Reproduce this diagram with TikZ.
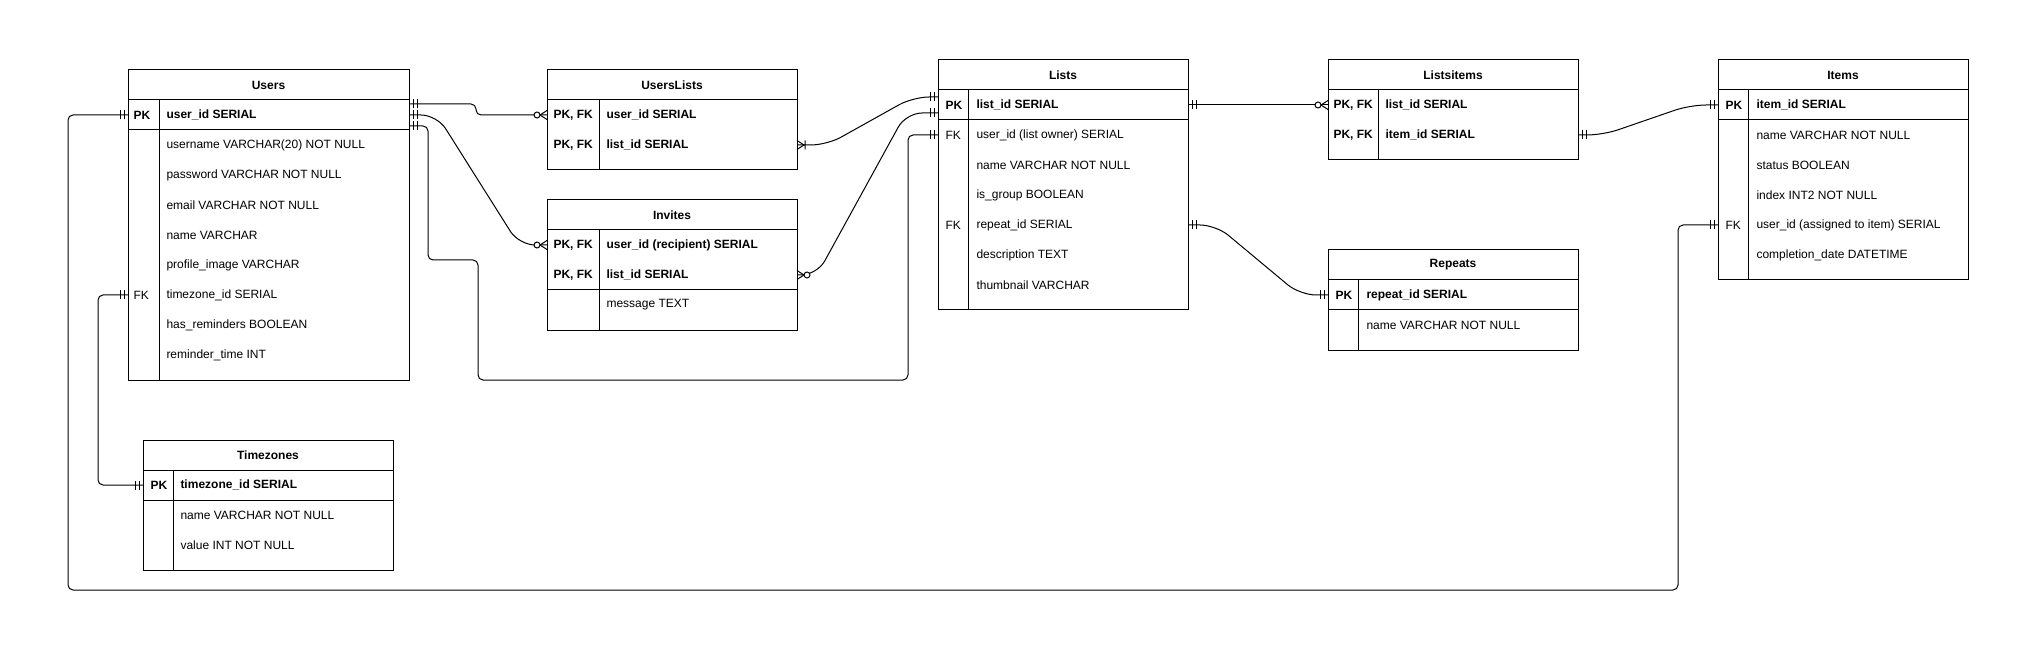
\documentclass[tikz,border=0pt]{standalone}
\usepackage{fontspec}
\setmainfont{Liberation Sans}

\tikzset{
  mone/.pic={\draw (4,-4.5) -- (4,4.5) (8,-4.5) -- (8,4.5);},
  zmany/.pic={\draw (0,-4.5) -- (7,0) -- (0,4.5); \draw[fill=white] (10,0) circle[radius=3];},
  omany/.pic={\draw (0,-4.5) -- (7,0) -- (0,4.5) (8,-4.5) -- (8,4.5);},
}

\begin{document}
\begin{tikzpicture}[
        x=1pt, y=-1pt,
        line width=1pt,
        every node/.style={font=\fontsize{12}{14}\selectfont},
        ttl/.style={draw, font=\fontsize{12}{14}\selectfont\bfseries, minimum height=30pt,
                    inner sep=0pt, outer sep=0pt, anchor=north west},
        rowbox/.style={minimum height=30pt, inner sep=0pt, outer sep=0pt, anchor=north west},
        keytxt/.style={anchor=west, inner sep=0pt},
        fldtxt/.style={anchor=west, inner sep=0pt},
        relline/.style={rounded corners=5pt},
        relbend/.style={rounded corners=16pt}
    ]
        \fill[white] (0,0) rectangle (2029,660);
        \useasboundingbox (0,0) rectangle (2029,660);

        % Users
        \node[ttl, minimum width=281pt] (users) at (128,70) {Users};
        \draw (users.south west) rectangle ++(281,280);
        \foreach \k/\f [count=\i] in {{\textbf{PK}}/{\textbf{user\_id SERIAL}}, {}/username VARCHAR(20) NOT NULL,
                {}/password VARCHAR NOT NULL, {}/email VARCHAR NOT NULL, {}/name VARCHAR, {}/profile\_image VARCHAR,
                FK/timezone\_id SERIAL, {}/has\_reminders BOOLEAN, {}/reminder\_time INT} {
            \node[rowbox, minimum width=281pt] (users-r\i) at (128,{100+30*(\i-1)}) {};
            \node[keytxt] (users-k\i) at ([xshift=5pt]users-r\i.west) {\k};
            \node[fldtxt] (users-f\i) at ([xshift=38pt]users-r\i.west) {\f};
        }
        \draw (users-r1.south west) -- (users-r1.south east);
        \draw ([xshift=31pt]users.south west) -- ++(0,280);

        % Timezones
        \node[ttl, minimum width=250pt] (tzones) at (143,440) {Timezones};
        \draw (tzones.south west) rectangle ++(250,100);
        \foreach \k/\f [count=\i] in {{\textbf{PK}}/{\textbf{timezone\_id SERIAL}}, {}/name VARCHAR NOT NULL,
                {}/value INT NOT NULL} {
            \node[rowbox, minimum width=250pt] (tzones-r\i) at (143,{470+30*(\i-1)}) {};
            \node[keytxt] (tzones-k\i) at ([xshift=7pt]tzones-r\i.west) {\k};
            \node[fldtxt] (tzones-f\i) at ([xshift=37pt]tzones-r\i.west) {\f};
        }
        \draw (tzones-r1.south west) -- (tzones-r1.south east);
        \draw ([xshift=30pt]tzones.south west) -- ++(0,100);

        % UsersLists
        \node[ttl, minimum width=250pt] (ulists) at (547,70) {UsersLists};
        \draw (ulists.south west) rectangle ++(250,70);
        \foreach \k/\f [count=\i] in {{\textbf{PK, FK}}/{\textbf{user\_id SERIAL}}, {\textbf{PK, FK}}/{\textbf{list\_id SERIAL}}} {
            \node[rowbox, minimum width=250pt] (ulists-r\i) at (547,{100+30*(\i-1)}) {};
            \node[keytxt] (ulists-k\i) at ([xshift=6pt]ulists-r\i.west) {\k};
            \node[fldtxt] (ulists-f\i) at ([xshift=59pt]ulists-r\i.west) {\f};
        }
        \draw ([xshift=52pt]ulists.south west) -- ++(0,70);

        % Invites
        \node[ttl, minimum width=250pt] (invites) at (547,200) {Invites};
        \draw (invites.south west) rectangle ++(250,100);
        \foreach \k/\f [count=\i] in {{\textbf{PK, FK}}/{\textbf{user\_id (recipient) SERIAL}},
                {\textbf{PK, FK}}/{\textbf{list\_id SERIAL}}, {}/message TEXT} {
            \node[rowbox, minimum width=250pt] (invites-r\i) at (547,{230+30*(\i-1)}) {};
            \node[keytxt] (invites-k\i) at ([xshift=6pt]invites-r\i.west) {\k};
            \node[fldtxt] (invites-f\i) at ([xshift=59pt]invites-r\i.west) {\f};
        }
        \draw (invites-r2.south west) -- (invites-r2.south east);
        \draw ([xshift=52pt]invites.south west) -- ++(0,100);

        % Lists
        \node[ttl, minimum width=250pt] (lists) at (938,60) {Lists};
        \draw (lists.south west) rectangle ++(250,220);
        \foreach \k/\f [count=\i] in {{\textbf{PK}}/{\textbf{list\_id SERIAL}}, FK/user\_id (list owner) SERIAL,
                {}/name VARCHAR NOT NULL, {}/is\_group BOOLEAN, FK/repeat\_id SERIAL, {}/description TEXT,
                {}/thumbnail VARCHAR} {
            \node[rowbox, minimum width=250pt] (lists-r\i) at (938,{90+30*(\i-1)}) {};
            \node[keytxt] (lists-k\i) at ([xshift=7pt]lists-r\i.west) {\k};
            \node[fldtxt] (lists-f\i) at ([xshift=38pt]lists-r\i.west) {\f};
        }
        \draw (lists-r1.south west) -- (lists-r1.south east);
        \draw ([xshift=30pt]lists.south west) -- ++(0,220);

        % Listsitems
        \node[ttl, minimum width=250pt] (litems) at (1328,60) {Listsitems};
        \draw (litems.south west) rectangle ++(250,70);
        \foreach \k/\f [count=\i] in {{\textbf{PK, FK}}/{\textbf{list\_id SERIAL}}, {\textbf{PK, FK}}/{\textbf{item\_id SERIAL}}} {
            \node[rowbox, minimum width=250pt] (litems-r\i) at (1328,{90+30*(\i-1)}) {};
            \node[keytxt] (litems-k\i) at ([xshift=5pt]litems-r\i.west) {\k};
            \node[fldtxt] (litems-f\i) at ([xshift=57pt]litems-r\i.west) {\f};
        }
        \draw ([xshift=50pt]litems.south west) -- ++(0,70);

        % Repeats
        \node[ttl, minimum width=250pt] (repeats) at (1328,250) {Repeats};
        \draw (repeats.south west) rectangle ++(250,70);
        \foreach \k/\f [count=\i] in {{\textbf{PK}}/{\textbf{repeat\_id SERIAL}}, {}/name VARCHAR NOT NULL} {
            \node[rowbox, minimum width=250pt] (repeats-r\i) at (1328,{280+30*(\i-1)}) {};
            \node[keytxt] (repeats-k\i) at ([xshift=7pt]repeats-r\i.west) {\k};
            \node[fldtxt] (repeats-f\i) at ([xshift=38pt]repeats-r\i.west) {\f};
        }
        \draw (repeats-r1.south west) -- (repeats-r1.south east);
        \draw ([xshift=30pt]repeats.south west) -- ++(0,70);

        % Items
        \node[ttl, minimum width=250pt] (items) at (1718,60) {Items};
        \draw (items.south west) rectangle ++(250,190);
        \foreach \k/\f [count=\i] in {{\textbf{PK}}/{\textbf{item\_id SERIAL}}, {}/name VARCHAR NOT NULL,
                {}/status BOOLEAN, {}/index INT2 NOT NULL, FK/user\_id (assigned to item) SERIAL,
                {}/completion\_date DATETIME} {
            \node[rowbox, minimum width=250pt] (items-r\i) at (1718,{90+30*(\i-1)}) {};
            \node[keytxt] (items-k\i) at ([xshift=7pt]items-r\i.west) {\k};
            \node[fldtxt] (items-f\i) at ([xshift=38pt]items-r\i.west) {\f};
        }
        \draw (items-r1.south west) -- (items-r1.south east);
        \draw ([xshift=30pt]items.south west) -- ++(0,190);

        % relations
        \draw[relline] ([yshift=11pt]users-r1.east) -- ++(67,0) |- (ulists-r1.west);
        \draw[relbend] (users-r1.east) -- ++(28,0) -- ([xshift=-28pt]invites-r1.west) -- (invites-r1.west);
        \draw[relline] ([yshift=-11pt]users-r1.east) -- ++(19,0) -- ++(0,134) -- ++(50,0) -- ++(0,120)
            -| ([xshift=-30pt]lists-r2.west) -- (lists-r2.west);
        \draw[relbend] (ulists-r2.east) -- ++(30,0) -- ([xshift=-25pt,yshift=8pt]lists-r1.west) -- ([yshift=8pt]lists-r1.west);
        \draw[relbend] (invites-r2.east) -- ++(20,0) -- ([xshift=-32pt,yshift=-8pt]lists-r1.west) -- ([yshift=-8pt]lists-r1.west);
        \draw (lists-r1.east) -- (litems-r1.west);
        \draw[relbend] (lists-r5.east) -- ++(28,0) -- ([xshift=-28pt]repeats-r1.west) -- (repeats-r1.west);
        \draw[relbend] (litems-r2.east) -- ++(25,0) -- ([xshift=-28pt]items-r1.west) -- (items-r1.west);
        \draw[relline] (users-r1.west) -- ++(-60,0) -- ++(0,475) -| ([xshift=-40pt]items-r5.west) -- (items-r5.west);
        \draw[relline] (users-r7.west) -- ++(-30,0) |- (tzones-r1.west);

        % ends
        \path ([yshift=11pt]users-r1.east) pic {mone} (users-r1.east) pic {mone} ([yshift=-11pt]users-r1.east) pic {mone};
        \path (ulists-r1.west) pic[rotate=180] {zmany} (invites-r1.west) pic[rotate=180] {zmany};
        \path (ulists-r2.east) pic {omany} (invites-r2.east) pic {zmany};
        \path ([yshift=8pt]lists-r1.west) pic[rotate=180] {mone} ([yshift=-8pt]lists-r1.west) pic[rotate=180] {mone}
              (lists-r2.west) pic[rotate=180] {mone};
        \path (lists-r1.east) pic {mone} (litems-r1.west) pic[rotate=180] {zmany};
        \path (lists-r5.east) pic {mone} (repeats-r1.west) pic[rotate=180] {mone};
        \path (litems-r2.east) pic {mone} (items-r1.west) pic[rotate=180] {mone};
        \path (users-r1.west) pic[rotate=180] {mone} (items-r5.west) pic[rotate=180] {mone};
        \path (users-r7.west) pic[rotate=180] {mone} (tzones-r1.west) pic[rotate=180] {mone};
    \end{tikzpicture}
\end{document}
